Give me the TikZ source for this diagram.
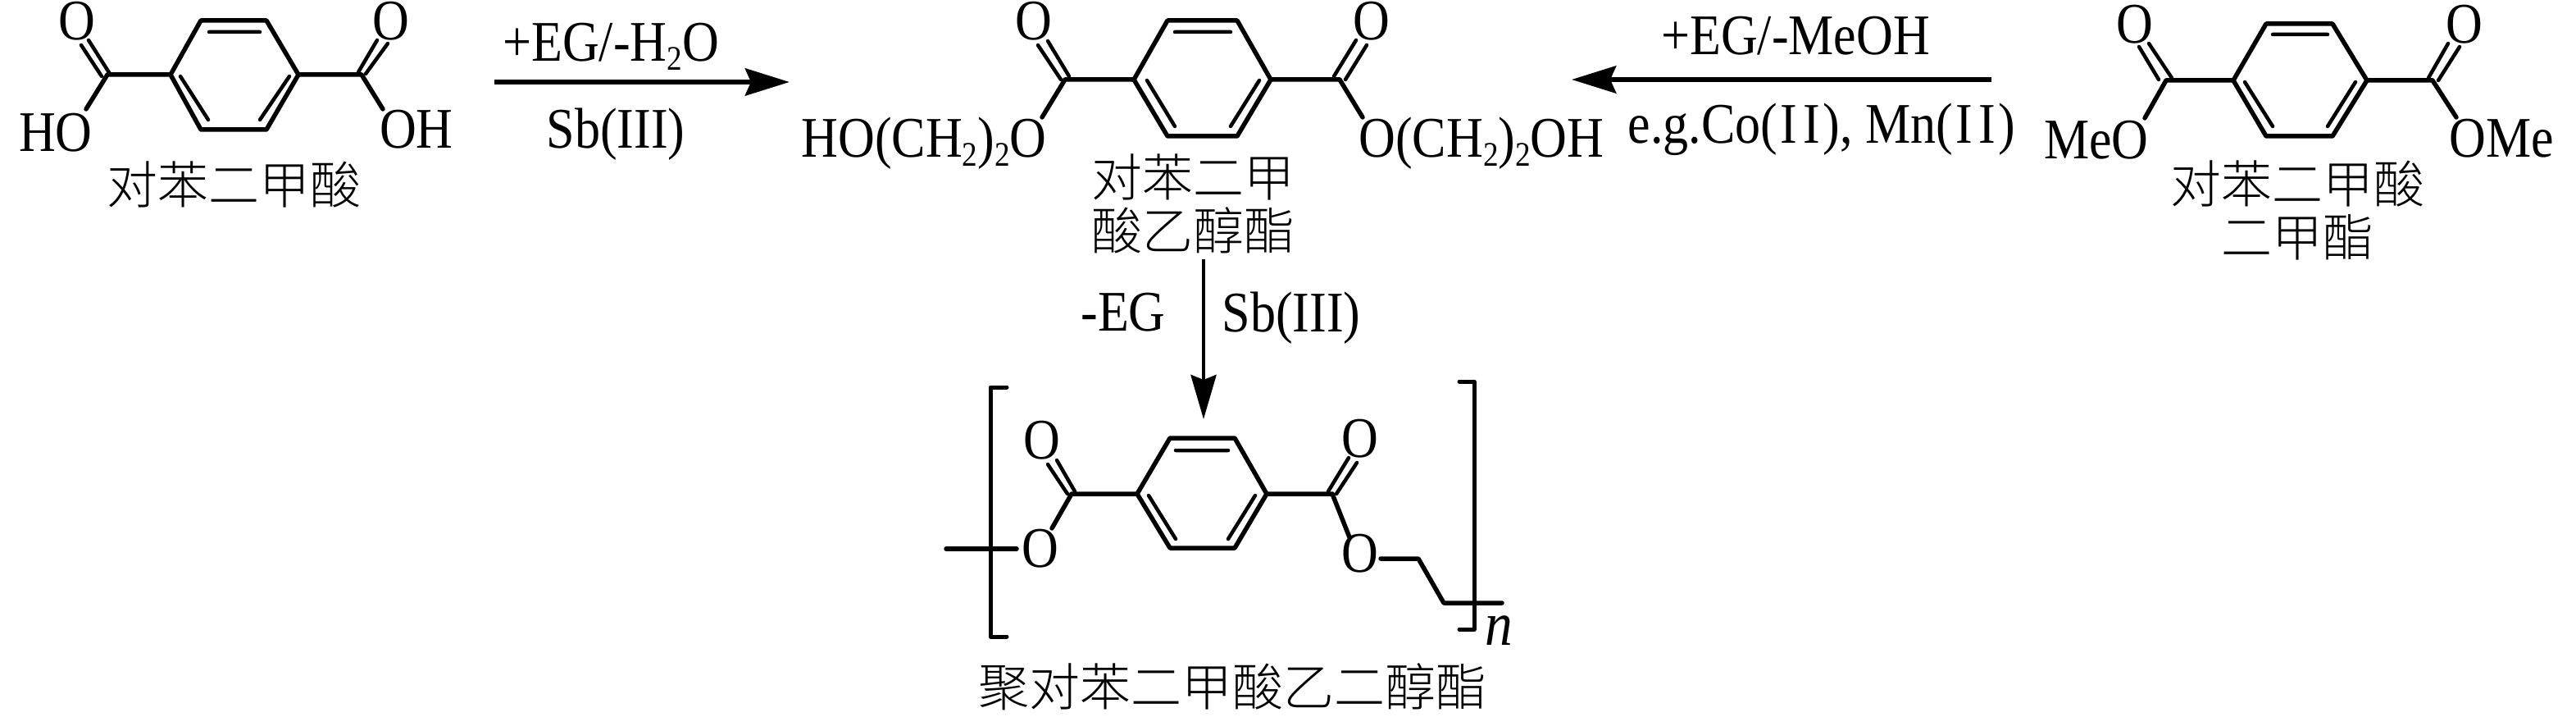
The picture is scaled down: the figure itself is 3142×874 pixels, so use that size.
\documentclass[tikz,border=0pt]{standalone}
\usepackage{fontspec}
\usetikzlibrary{arrows.meta}
\setmainfont[FakeStretch=0.886]{Liberation Serif}
\newfontfamily\cjkfont{Noto Sans CJK SC Light}
\newcommand{\subs}[1]{\raisebox{-0.15em}{\fontsize{42}{42}\selectfont #1}}
\newcommand{\romtwo}{\kern.05em I\kern.1em I\kern.05em}
\tikzset{
  bond/.style={line width=5.5pt,line cap=round,line join=round,black},
  thinbond/.style={line width=4.5pt,line cap=round,black},
  rarrow/.style={line width=6.5pt,-{Stealth[length=54pt,width=33pt,inset=7pt]},black},
  varrow/.style={line width=4.5pt,-{Stealth[length=54pt,width=31pt,inset=6pt]},black},
  bracketline/.style={line width=5pt,line cap=round,line join=round,black},
  chem/.style={inner sep=0pt,font=\fontsize{70}{70}\selectfont},
  chemb/.style={chem,anchor=base},
  cn/.style={inner sep=0pt,align=center,font=\cjkfont\fontsize{62}{65}\selectfont},
}
\begin{document}
\begin{tikzpicture}[x=1pt,y=-1pt]
\path[use as bounding box,fill=white] (0,0) rectangle (3142,874);

% --- terephthalic acid
\coordinate (a1) at (245,25); \coordinate (a2) at (325,25); \coordinate (a3) at (364,91);
\coordinate (a4) at (325,158); \coordinate (a5) at (245,158); \coordinate (a6) at (208,91);
\coordinate (ai1) at (255,39); \coordinate (ai2) at (317,39);
\coordinate (ai3) at (220,93); \coordinate (ai4) at (254,146);
\coordinate (ai5) at (353,93); \coordinate (ai6) at (317,146);
\coordinate (acl) at (131,91); \coordinate (acr) at (441,91);
\coordinate (ad1) at (99,55); \coordinate (ad2) at (124,93);
\coordinate (ad3) at (108,49); \coordinate (ad4) at (134,90);
\coordinate (ad5) at (460,49); \coordinate (ad6) at (437,88);
\coordinate (ad7) at (473,53); \coordinate (ad8) at (446,90);
\coordinate (aol) at (105,133); \coordinate (aor) at (467,133);
\draw[bond] (a1)--(a2)--(a3)--(a4)--(a5)--(a6)--cycle;
\draw[thinbond] (ai1)--(ai2) (ai3)--(ai4) (ai5)--(ai6);
\draw[bond] (acl)--(a6) (acr)--(a3) (acl)--(aol) (acr)--(aor);
\draw[thinbond] (ad1)--(ad2) (ad3)--(ad4) (ad5)--(ad6) (ad7)--(ad8);
\node[chem] (ao1) at (94,26) {O};
\node[chem] (ao2) at (477,26) {O};
\node[chem] (ahol) at (68,162) {HO};
\node[chem] (ahor) at (508,158) {OH};
\node[cn] (aname) at (285,225) {对苯二甲酸};

% --- arrow 1
\coordinate (r1s) at (603,100); \coordinate (r1e) at (963,100);
\draw[rarrow] (r1s)--(r1e);
\node[chemb] (r1t) at (745,75) {+EG/-H\subs{2}O};
\node[chemb] (r1b) at (751,181) {Sb(III)};

% --- BHET
\coordinate (b1) at (1424,25); \coordinate (b2) at (1509,25); \coordinate (b3) at (1550,97);
\coordinate (b4) at (1509,166); \coordinate (b5) at (1424,166); \coordinate (b6) at (1383,97);
\coordinate (bi1) at (1433,39); \coordinate (bi2) at (1501,39);
\coordinate (bi3) at (1399,98); \coordinate (bi4) at (1433,154);
\coordinate (bi5) at (1536,98); \coordinate (bi6) at (1501,154);
\coordinate (bcl) at (1299,97); \coordinate (bcr) at (1634,97);
\coordinate (bd1) at (1266,55); \coordinate (bd2) at (1294,97);
\coordinate (bd3) at (1278,50); \coordinate (bd4) at (1304,93);
\coordinate (bd5) at (1654,49); \coordinate (bd6) at (1627,93);
\coordinate (bd7) at (1667,55); \coordinate (bd8) at (1641,97);
\coordinate (bol) at (1271,143); \coordinate (bor) at (1662,143);
\draw[bond] (b1)--(b2)--(b3)--(b4)--(b5)--(b6)--cycle;
\draw[thinbond] (bi1)--(bi2) (bi3)--(bi4) (bi5)--(bi6);
\draw[bond] (bcl)--(b6) (bcr)--(b3) (bcl)--(bol) (bcr)--(bor);
\draw[thinbond] (bd1)--(bd2) (bd3)--(bd4) (bd5)--(bd6) (bd7)--(bd8);
\node[chem] (bo1) at (1261,26) {O};
\node[chem] (bo2) at (1673,26) {O};
\node[chemb] (bhol) at (1127,192) {HO(CH\subs{2})\subs{2}O};
\node[chemb] (bhor) at (1807,192) {O(CH\subs{2})\subs{2}OH};
\node[cn] (bname) at (1455,248) {对苯二甲\\酸乙醇酯};

% --- arrow 2
\coordinate (r2s) at (2429,97); \coordinate (r2e) at (1917,97);
\draw[rarrow] (r2s)--(r2e);
\node[chemb] (r2t) at (2190,67) {+EG/-MeOH};
\node[chemb] (r2b) at (2222,175) {e.g.Co(\romtwo), Mn(\romtwo)};

% --- DMT
\coordinate (c1) at (2764,29); \coordinate (c2) at (2845,29); \coordinate (c3) at (2887,98);
\coordinate (c4) at (2845,166); \coordinate (c5) at (2764,166); \coordinate (c6) at (2724,98);
\coordinate (ci1) at (2772,42); \coordinate (ci2) at (2839,42);
\coordinate (ci3) at (2738,100); \coordinate (ci4) at (2772,154);
\coordinate (ci5) at (2873,100); \coordinate (ci6) at (2839,154);
\coordinate (ccl) at (2642,98); \coordinate (ccr) at (2967,98);
\coordinate (cd1) at (2609,57); \coordinate (cd2) at (2633,97);
\coordinate (cd3) at (2621,53); \coordinate (cd4) at (2649,95);
\coordinate (cd5) at (2986,53); \coordinate (cd6) at (2962,95);
\coordinate (cd7) at (3000,57); \coordinate (cd8) at (2974,98);
\coordinate (col) at (2616,144); \coordinate (cor) at (2996,143);
\draw[bond] (c1)--(c2)--(c3)--(c4)--(c5)--(c6)--cycle;
\draw[thinbond] (ci1)--(ci2) (ci3)--(ci4) (ci5)--(ci6);
\draw[bond] (ccl)--(c6) (ccr)--(c3) (ccl)--(col) (ccr)--(cor);
\draw[thinbond] (cd1)--(cd2) (cd3)--(cd4) (cd5)--(cd6) (cd7)--(cd8);
\node[chem] (co1) at (2604,30) {O};
\node[chem] (co2) at (3006,30) {O};
\node[chemb] (cmeo) at (2557,194) {MeO};
\node[chemb] (come) at (3051,192) {OMe};
\node[cn] (cname) at (2802,256) {对苯二甲酸\\二甲酯};

% --- arrow 3
\coordinate (r3s) at (1468,316); \coordinate (r3e) at (1468,511);
\draw[varrow] (r3s)--(r3e);
\node[chemb] (r3l) at (1370,403) {-EG};
\node[chemb] (r3r) at (1575,404) {Sb(III)};

% --- PET
\coordinate (d1) at (1427,534); \coordinate (d2) at (1506,534); \coordinate (d3) at (1545,602);
\coordinate (d4) at (1506,668); \coordinate (d5) at (1427,668); \coordinate (d6) at (1387,602);
\coordinate (di1) at (1434,549); \coordinate (di2) at (1498,549);
\coordinate (di3) at (1401,604); \coordinate (di4) at (1434,657);
\coordinate (di5) at (1531,604); \coordinate (di6) at (1498,657);
\coordinate (dcl) at (1307,602); \coordinate (dcr) at (1625,602);
\coordinate (dd1) at (1278,566); \coordinate (dd2) at (1302,602);
\coordinate (dd3) at (1289,561); \coordinate (dd4) at (1311,599);
\coordinate (dd5) at (1645,558); \coordinate (dd6) at (1620,599);
\coordinate (dd7) at (1655,564); \coordinate (dd8) at (1630,602);
\coordinate (dol) at (1283,644); \coordinate (dor) at (1646,655);
\coordinate (de1) at (1154,669); \coordinate (de2) at (1240,669);
\coordinate (df1) at (1684,681); \coordinate (df2) at (1730,681);
\coordinate (df3) at (1761,735); \coordinate (df4) at (1832,735);
\draw[bond] (d1)--(d2)--(d3)--(d4)--(d5)--(d6)--cycle;
\draw[thinbond] (di1)--(di2) (di3)--(di4) (di5)--(di6);
\draw[bond] (dcl)--(d6) (dcr)--(d3) (dcl)--(dol) (dcr)--(dor);
\draw[thinbond] (dd1)--(dd2) (dd3)--(dd4) (dd5)--(dd6) (dd7)--(dd8);
\draw[bond] (de1)--(de2);
\draw[bond] (df1)--(df2)--(df3)--(df4);
\coordinate (bl1) at (1228,472); \coordinate (bl2) at (1208,472);
\coordinate (bl3) at (1208,776); \coordinate (bl4) at (1228,776);
\coordinate (br1) at (1780,465); \coordinate (br2) at (1798,465);
\coordinate (br3) at (1798,767); \coordinate (br4) at (1780,767);
\draw[bracketline] (bl1)--(bl2)--(bl3)--(bl4);
\draw[bracketline] (br1)--(br2)--(br3)--(br4);
\node[chem] (do1) at (1271,537) {O};
\node[chem] (do2) at (1659,535) {O};
\node[chem] (do3) at (1269,669) {O};
\node[chem] (do4) at (1659,675) {O};
\node[chemb,font=\fontsize{76}{76}\selectfont\itshape] (dn) at (1828,786) {n};
\node[cn] (dname) at (1503,837) {聚对苯二甲酸乙二醇酯};
\end{tikzpicture}
\end{document}
